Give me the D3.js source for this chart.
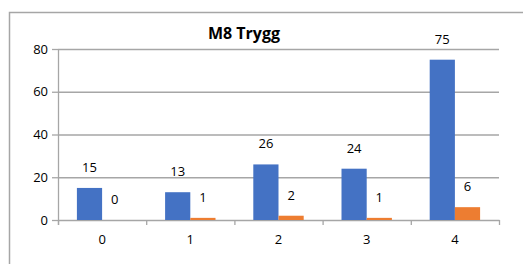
<!DOCTYPE html>
<html>
<head>
<meta charset="utf-8">
<script src="https://cdn.jsdelivr.net/npm/d3@7"></script>
<style>
  body { margin: 0; background: #fff; }
  svg text { font-family: "Open Sans", "Noto Sans", sans-serif; }
</style>
</head>
<body>
<div id="chart"></div>
<script>
// chart data
const categories = ['0', '1', '2', '3', '4'];
const seriesNames = ['A', 'B'];
const seriesA = [15, 13, 26, 24, 75];
const seriesB = [0, 1, 2, 1, 6];
const yTicks = [0, 20, 40, 60, 80];
const title = 'M8 Trygg';

const colors = ['#4472C4', '#ED7D31'];

const W = 523, H = 264;
const margin = { top: 49, right: 24, bottom: 44, left: 58 };
const width = W - margin.left - margin.right;
const height = H - margin.top - margin.bottom;

const svg = d3.select('#chart').append('svg')
  .attr('width', W)
  .attr('height', H);

// outer frame (cropped at right and bottom)
svg.append('rect')
  .attr('x', 9.5).attr('y', 12.5)
  .attr('width', W).attr('height', H)
  .attr('fill', 'none')
  .attr('stroke', '#a6a6a6')
  .attr('stroke-width', 1.5);

svg.append('text')
  .attr('x', 244).attr('y', 39)
  .attr('text-anchor', 'middle')
  .style('font-size', '16px')
  .style('font-weight', 'bold')
  .attr('fill', '#000')
  .text(title);

const chart = svg.append('g')
  .attr('transform', `translate(${margin.left},${margin.top})`);

// scales
const x0 = d3.scaleBand()
  .domain(categories)
  .range([0, width])
  .paddingInner(1.5 / 3.5)
  .paddingOuter(0.75 / 3.5);

const x1 = d3.scaleBand()
  .domain(seriesNames)
  .range([0, x0.bandwidth()]);

const y = d3.scaleLinear()
  .domain([0, 80])
  .range([height, 0]);

// gridlines
chart.append('g')
  .attr('class', 'grid')
  .call(d3.axisLeft(y).tickValues(yTicks.slice(1)).tickSize(-width).tickFormat(''))
  .call(g => g.select('.domain').remove())
  .call(g => g.selectAll('line').attr('stroke', '#a6a6a6').attr('stroke-width', 1.3));

// y axis
chart.append('g')
  .call(d3.axisLeft(y).tickValues(yTicks).tickSize(6).tickSizeOuter(0).tickPadding(4))
  .call(g => g.select('.domain').attr('stroke', '#a6a6a6').attr('stroke-width', 1.3)
    .attr('d', `M0.5,${height + 5}V0`))
  .call(g => g.selectAll('line').attr('stroke', '#a6a6a6').attr('stroke-width', 1.3))
  .call(g => g.selectAll('text').attr('fill', '#000').style('font-size', '13px'));

// x axis: line with boundary ticks
const xb = d3.scaleLinear().domain([0, categories.length]).range([0, width]);
chart.append('g')
  .attr('transform', `translate(0,${height})`)
  .call(d3.axisBottom(xb).tickValues(d3.range(categories.length + 1)).tickSize(5).tickSizeOuter(0).tickFormat(''))
  .call(g => g.select('.domain').attr('stroke', '#a6a6a6').attr('stroke-width', 1.3))
  .call(g => g.selectAll('line').attr('stroke', '#a6a6a6').attr('stroke-width', 1.3));

// x labels at category centres
chart.append('g')
  .attr('transform', `translate(0,${height})`)
  .call(d3.axisBottom(x0).tickSize(0).tickPadding(15))
  .call(g => g.select('.domain').remove())
  .call(g => g.selectAll('text').attr('fill', '#000').style('font-size', '13px'));

// bars
const rows = categories.map((c, i) => ({ cat: c, values: [seriesA[i], seriesB[i]] }));

const groups = chart.selectAll('.group')
  .data(rows)
  .join('g')
  .attr('class', 'group')
  .attr('transform', d => `translate(${x0(d.cat)},0)`);

groups.selectAll('rect')
  .data(d => d.values.map((v, j) => ({ key: seriesNames[j], v, j })))
  .join('rect')
  .attr('x', d => x1(d.key))
  .attr('width', x1.bandwidth())
  .attr('y', d => y(d.v))
  .attr('height', d => height - y(d.v))
  .attr('fill', d => colors[d.j]);

groups.selectAll('.lbl')
  .data(d => d.values.map((v, j) => ({ key: seriesNames[j], v, j })))
  .join('text')
  .attr('class', 'lbl')
  .attr('x', d => x1(d.key) + x1.bandwidth() / 2)
  .attr('y', d => y(d.v) - 16)
  .attr('text-anchor', 'middle')
  .style('font-size', '13px')
  .attr('fill', '#000')
  .text(d => d.v);
</script>
</body>
</html>
